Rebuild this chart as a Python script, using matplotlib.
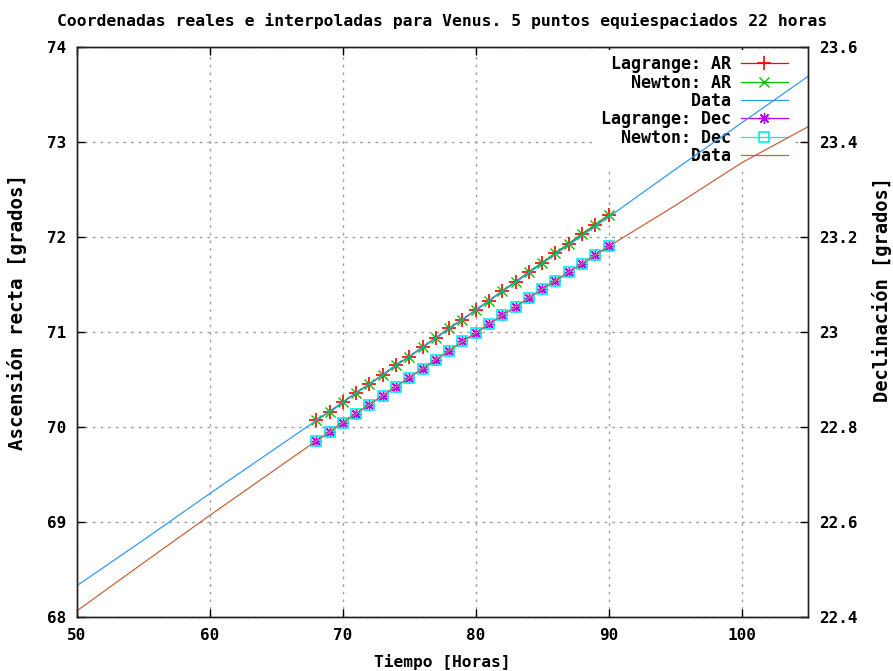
import numpy as np
import matplotlib.pyplot as plt
from matplotlib.ticker import FuncFormatter

plt.rcParams['font.family'] = ['DejaVu Sans Mono']
plt.rcParams['font.weight'] = 'bold'
plt.rcParams['axes.titleweight'] = 'bold'
plt.rcParams['axes.labelweight'] = 'bold'
plt.rcParams['font.size'] = 12

# Observed ephemeris (hours since start)
t_data = [50, 55, 60, 65, 70, 75, 80, 85, 90, 95, 100, 105]
ar_data = [68.33, 68.81, 69.30, 69.78, 70.26, 70.74, 71.23, 71.72, 72.21, 72.71, 73.20, 73.69]
dec_data = [22.413, 22.514, 22.614, 22.712, 22.810, 22.904, 22.998, 23.090, 23.180,
            23.266, 23.356, 23.432]

# Interpolated values (Lagrange and Newton give the same results)
t_interp = [68, 69, 70, 71, 72, 73, 74, 75, 76, 77, 78, 79, 80, 81, 82, 83, 84, 85,
            86, 87, 88, 89, 90]
ar_lagrange = [70.07, 70.16, 70.26, 70.36, 70.45, 70.55, 70.65, 70.74, 70.84, 70.94,
               71.04, 71.13, 71.23, 71.33, 71.43, 71.53, 71.63, 71.73, 71.83, 71.93,
               72.03, 72.13, 72.23]
ar_newton = list(ar_lagrange)
dec_lagrange = [22.770, 22.789, 22.809, 22.828, 22.847, 22.866, 22.885, 22.904, 22.923,
                22.942, 22.961, 22.980, 22.998, 23.017, 23.035, 23.053, 23.072, 23.090,
                23.108, 23.126, 23.144, 23.162, 23.180]
dec_newton = list(dec_lagrange)

labels = ['Lagrange: AR', 'Newton: AR', 'Data', 'Lagrange: Dec', 'Newton: Dec', 'Data']
width = max(len(s) for s in labels)
labels = [s.rjust(width) for s in labels]  # right-aligned like gnuplot's key

fig = plt.figure(figsize=(8.93, 6.71), dpi=100)
ax = fig.add_axes([0.0862, 0.0805, 0.8186, 0.8495])
ax2 = ax.twinx()

lw = 0.9
h1, = ax.plot(t_interp, ar_lagrange, color='#ff0000', lw=lw, marker='+', ms=10, mew=1.2)
h2, = ax.plot(t_interp, ar_newton, color='#00c000', lw=lw, marker='x', ms=7.5, mew=1.0)
h3, = ax.plot(t_data, ar_data, color='#3399ff', lw=lw)
h4, = ax2.plot(t_interp, dec_lagrange, color='#c000ff', lw=lw, marker=(8, 2, 0), ms=8, mew=1.0)
h5, = ax2.plot(t_interp, dec_newton, color='#00eeee', lw=lw, marker='s', ms=7.5,
               mfc='none', mew=1.2)
h6, = ax2.plot(t_data, dec_data, color='#c8643c', lw=lw)

ax.set_xlim(50, 105)
ax.set_ylim(68, 74)
ax2.set_ylim(22.4, 23.6)
ax.set_xticks([50, 60, 70, 80, 90, 100])
ax.set_yticks([68, 69, 70, 71, 72, 73, 74])
ax2.set_yticks([22.4, 22.6, 22.8, 23.0, 23.2, 23.4, 23.6])
ax2.yaxis.set_major_formatter(FuncFormatter(lambda v, p: '%g' % round(v, 1)))

ax.grid(True, color='#a0a0a0', linestyle=(0, (2, 3.5)), lw=1.0)
ax.set_axisbelow(True)
for a in (ax, ax2):
    a.tick_params(direction='in', length=6, width=1, pad=8, labelsize=11.5)
    for s in a.spines.values():
        s.set_linewidth(1.0)
        s.set_color('#222222')
ax.tick_params(top=True)

ax.set_title('Coordenadas reales e interpoladas para Venus. 5 puntos equiespaciados 22 horas',
             fontsize=11.8, pad=15)
ax.set_xlabel('Tiempo [Horas]', fontsize=11.7, labelpad=8)
ax.set_ylabel('Ascensión recta [grados]', fontsize=13.8)
ax2.set_ylabel('Declinación [grados]', fontsize=13.5, rotation=90)
ax.yaxis.set_label_coords(-0.069, 0.535)
ax2.yaxis.set_label_coords(1.087, 0.574)

leg = ax.legend([h1, h2, h3, h4, h5, h6], labels, loc='upper right',
                bbox_to_anchor=(1 - 12 / 731, 1), fontsize=12,
                markerfirst=False, handlelength=2.8, handletextpad=0.6, labelspacing=0.02,
                borderpad=0.3, borderaxespad=0.2, frameon=True, fancybox=False,
                framealpha=1.0, edgecolor='none', facecolor='white')
leg.set_zorder(1.5)

fig.savefig('out.png', dpi=100)
